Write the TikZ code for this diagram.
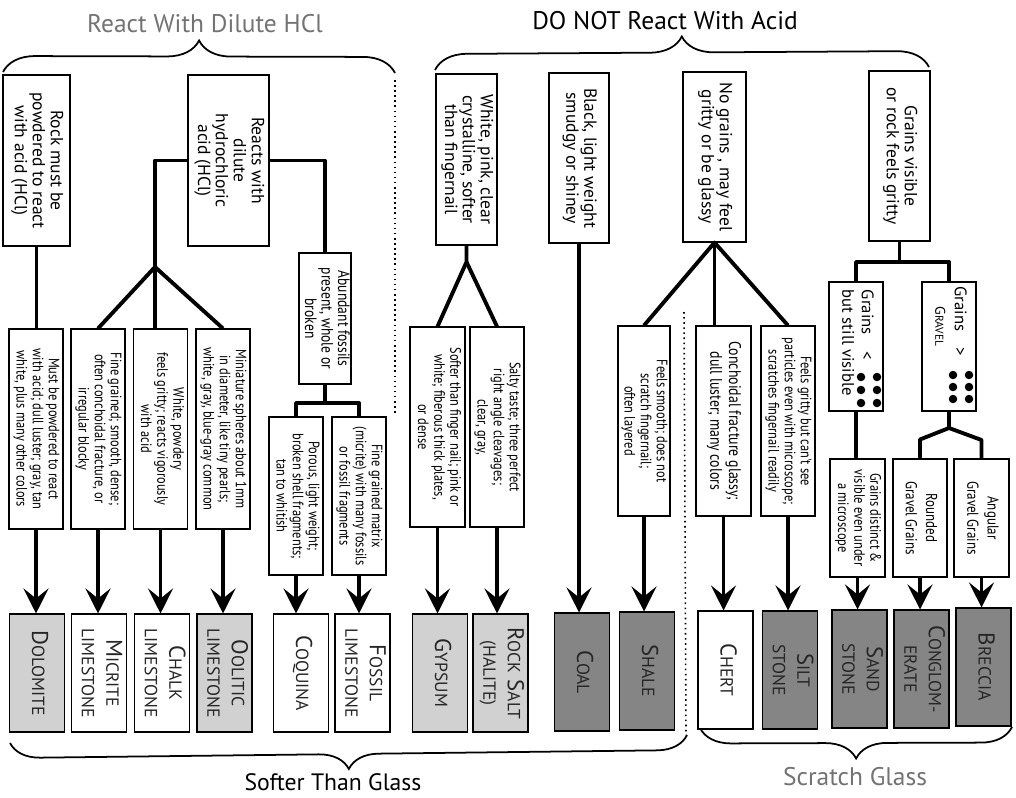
\documentclass[tikz,border=0pt]{standalone}
\usepackage{graphicx}
\usepackage{fontspec}
\setmainfont{PT Sans}
\newfontfamily\narrowfont[FakeStretch=0.82]{PT Sans}
\usetikzlibrary{arrows.meta,decorations.pathreplacing}

\newcommand{\vtext}[1]{\rotatebox{-90}{\begin{tabular}{@{}c@{}}#1\end{tabular}}}
\newcommand{\rock}[2]{{\fontsize{13}{14}\selectfont #1}{\fontsize{10}{14}\selectfont #2}}

\begin{document}
\begin{tikzpicture}[x=0.02cm,y=-0.02cm,
  textbox/.style={draw, line width=0.6pt, fill=white, inner sep=0pt, font=\fontsize{10}{10.2}\selectfont},
  note/.style={textbox, font=\narrowfont\fontsize{8.6}{9.2}\selectfont},
  rockbox/.style={textbox, minimum width=1.1cm, minimum height=2.36cm, font=\fontsize{13}{14}\selectfont, text=black!85},
  link/.style={line width=2.2pt, line join=round},
  arr/.style={line width=2.2pt, -{Stealth[length=0.5cm,width=0.5cm,inset=0.2cm]}},
  curly/.style={decorate, line width=1pt},
  toplabel/.style={font=\fontsize{14.5}{16}\selectfont}]
\definecolor{lightrock}{gray}{0.82}
\definecolor{darkrock}{gray}{0.52}
\useasboundingbox (0,0) rectangle (1016,797);

% group labels and braces
\node[toplabel, text=black!55] (acid) at (205,24) {React With Dilute HCl};
\node[toplabel] (noacid) at (665,21) {DO NOT React With Acid};
\node[toplabel, font=\fontsize{13.5}{15}\selectfont] (softer) at (333,782) {Softer Than Glass};
\node[toplabel, text=black!55] (scratch) at (855,777) {Scratch Glass};

\draw[curly, decoration={brace, amplitude=0.64cm}] (3,72) -- (395,73);
\draw[curly, decoration={brace, amplitude=0.64cm}] (435,70) -- (929,67);
\draw[curly, decoration={brace, amplitude=0.6cm}] (687,735) -- (10,743);
\draw[curly, decoration={brace, amplitude=0.62cm}] (1012,727) -- (700,728);

\draw[dotted, line width=0.9pt] (395,80) -- (395,415);
\draw[dotted, line width=0.9pt] (684,312) -- (686,735);

% first tests
\node[textbox, minimum width=1.34cm, minimum height=3.42cm] (powder) at (36.5,160.5) {\vtext{Rock must be\\powdered to react\\with acid (HCl)}};
\node[textbox, minimum width=1.62cm, minimum height=3.42cm] (react) at (228.5,160.5) {\vtext{Reacts with\\dilute\\hydrochloric\\acid (HCl)}};
\node[note, minimum width=1.04cm, minimum height=2.62cm, font=\narrowfont\fontsize{9.4}{9.4}\selectfont] (fossil) at (325,318.5) {\vtext{Abundant fossils\\present, whole or\\broken}};

\node[textbox, minimum width=1.22cm, minimum height=3.42cm] (soft) at (466.5,159.5) {\vtext{White, pink, clear\\crystalline, softer\\than fingernail}};
\node[textbox, minimum width=1.2cm, minimum height=3.4cm] (black) at (579,158) {\vtext{Black, light weight\\smudgy or shiney}};
\node[textbox, minimum width=1.26cm, minimum height=3.4cm] (nograin) at (714.5,157) {\vtext{No grains , may feel\\gritty or be glassy}};
\node[textbox, minimum width=1.22cm, minimum height=3.4cm] (grain) at (899.5,156) {\vtext{Grains visible\\or rock feels gritty}};

% descriptions
\node[note, minimum width=1.08cm, minimum height=4cm] (ddol) at (36,429) {\vtext{Must be powdered to react\\with acid; dull luster; gray, tan\\white, plus many other colors}};
\node[note, minimum width=1.08cm, minimum height=4cm] (dmic) at (98,429) {\vtext{Fine grained; smooth, dense;\\often conchoidal fracture, or\\irregular blocky}};
\node[note, minimum width=1.08cm, minimum height=4cm] (dcha) at (160.5,429) {\vtext{White, powdery\\feels gritty; reacts vigorously\\with acid}};
\node[note, minimum width=1.08cm, minimum height=4cm] (dool) at (223,429) {\vtext{Miniature spheres about 1mm\\in diameter, like tiny pearls;\\white, gray, blue-gray common}};
\node[note, minimum width=1.08cm, minimum height=3.16cm] (dcoq) at (296,496) {\vtext{Porous, light weight;\\broken shell fragments;\\tan to whitish}};
\node[note, minimum width=1.08cm, minimum height=3.16cm] (dfos) at (359,496) {\vtext{Fine grained matrix\\(micrite) with many fossils\\or fossil fragments}};

\node[note, minimum width=1.1cm, minimum height=4cm] (dgyp) at (437.5,427) {\vtext{Softer than finger nail; pink or\\white; fiberous thick plates,\\or dense}};
\node[note, minimum width=1.08cm, minimum height=4cm] (dsal) at (497,427) {\vtext{Salty taste; three perfect\\right angle cleavages;\\clear, gray,}};

\node[note, minimum width=1.04cm, minimum height=3.8cm] (dsha) at (644,421) {\vtext{Feels smooth; does not\\scratch fingernail;\\often layered}};
\node[note, minimum width=1.1cm, minimum height=3.8cm, font=\narrowfont\fontsize{9.6}{10.6}\selectfont] (dche) at (723.5,421) {\vtext{Conchoidal fracture glassy;\\dull luster; many colors}};
\node[note, minimum width=1.08cm, minimum height=3.8cm] (dsil) at (788,421) {\vtext{Feels gritty but can't see\\particles even with microscope;\\scratches fingernail readily}};

\node[textbox, minimum width=1.08cm, minimum height=2.58cm, font=\fontsize{9.5}{11}\selectfont] (fine) at (856,346.5) {\rotatebox{-90}{\begin{tabular}{@{}l@{}}Grains\quad<\hspace{2.6em}\mbox{}\\but still visible\end{tabular}}};
\node[textbox, minimum width=1.08cm, minimum height=2.58cm, font=\fontsize{9.5}{11}\selectfont] (coarse) at (949,346.5) {\rotatebox{-90}{\begin{tabular}{@{}l@{}}Grains\quad>\hspace{3em}\mbox{}\\\hspace{1.2em}{\fontsize{8}{9}\selectfont G}{\fontsize{6.5}{9}\selectfont RAVEL}\end{tabular}}};
\fill (861,377) circle (0.085cm) (877,377) circle (0.085cm)
      (861,390) circle (0.085cm) (877,390) circle (0.085cm)
      (861,403) circle (0.085cm) (877,403) circle (0.085cm);
\fill (953,375) circle (0.085cm) (969,375) circle (0.085cm)
      (953,387) circle (0.085cm) (969,387) circle (0.085cm)
      (953,399) circle (0.085cm) (969,399) circle (0.085cm);

\node[note, minimum width=1.1cm, minimum height=2.36cm] (dsan) at (857.5,518) {\vtext{Grains distinct \&\\visible even under\\a microscope}};
\node[note, minimum width=1.08cm, minimum height=2.36cm, font=\narrowfont\fontsize{9}{11.5}\selectfont] (dcon) at (920,518) {\vtext{Rounded\\Gravel Grains}};
\node[note, minimum width=1.1cm, minimum height=2.36cm, font=\narrowfont\fontsize{9}{11.5}\selectfont] (dbre) at (981.5,518) {\vtext{Angular\\Gravel Grains}};

% rock names
\node[rockbox, fill=lightrock] (dol) at (37,673) {\vtext{\rock{D}{OLOMITE}}};
\node[rockbox] (mic) at (99,673) {\vtext{\rock{M}{ICRITE}\\\rock{}{LIMESTONE}}};
\node[rockbox] (cha) at (162,673) {\vtext{\rock{C}{HALK}\\\rock{}{LIMESTONE}}};
\node[rockbox, fill=lightrock] (ool) at (224.5,673) {\vtext{\rock{O}{OLITIC}\\\rock{}{LIMESTONE}}};
\node[rockbox] (coq) at (301,673) {\vtext{\rock{C}{OQUINA}}};
\node[rockbox] (fos) at (362.5,673) {\vtext{\rock{F}{OSSIL}\\\rock{}{LIMESTONE}}};
\node[rockbox, fill=lightrock] (gyp) at (440,673) {\vtext{\rock{G}{YPSUM}}};
\node[rockbox, fill=lightrock] (sal) at (500.5,673) {\vtext{\rock{R}{OCK} \rock{S}{ALT}\\\rock{}{(HALITE)}}};
\node[rockbox, fill=darkrock] (coal) at (582,672) {\vtext{\rock{C}{OAL}}};
\node[rockbox, fill=darkrock] (sha) at (647,671) {\vtext{\rock{S}{HALE}}};
\node[rockbox] (che) at (725.5,670) {\vtext{\rock{C}{HERT}}};
\node[rockbox, fill=darkrock] (sil) at (790,670) {\vtext{\rock{S}{ILT}\\\rock{}{STONE}}};
\node[rockbox, fill=darkrock] (san) at (859.5,669) {\vtext{\rock{S}{AND}\\\rock{}{STONE}}};
\node[rockbox, fill=darkrock] (con) at (921.5,669) {\vtext{\rock{C}{ONGLOM-}\\\rock{}{ERATE}}};
\node[rockbox, fill=darkrock] (bre) at (983.5,667) {\vtext{\rock{B}{RECCIA}}};

% branches
\coordinate (hclfork) at (155,267);
\coordinate (fosfork) at (325,403);
\coordinate (softfork) at (466.5,262);
\coordinate (grainfork) at (899.5,262);
\coordinate (gravfork) at (949,428);

\draw[link] (powder.south) -- (powder.south |- ddol.north);
\draw[link] (react.west) -| (hclfork);
\draw[link] (react.east) -| (fossil.north);
\draw[link] (dmic.north) -- (hclfork) -- (dool.north);
\draw[link] (hclfork) -- (hclfork |- dcha.north);
\draw[link] (fossil.south) -- (fosfork);
\draw[link] (dcoq.north) |- (fosfork) -| (dfos.north);

\draw[link] (soft.south) -- (softfork) -- (dgyp.north);
\draw[link] (softfork) -- (dsal.north);
\draw[link] (dsha.north) -- (nograin.south) -- (dsil.north);
\draw[link] (nograin.south) -- (nograin.south |- dche.north);
\draw[link] (grain.south) -- (grainfork);
\draw[link] (fine.north) |- (grainfork) -| (coarse.north);
\draw[link] (fine.south) -- (fine.south |- dsan.north);
\draw[link] (coarse.south) -- (gravfork);
\draw[link] (dcon.north) -- ++(0,-19) -- (gravfork) -- ++(32.5,12) -- (dbre.north);

% arrows to the rocks
\draw[arr] (ddol.south) -- (ddol.south |- dol.north);
\draw[arr] (dmic.south) -- (dmic.south |- mic.north);
\draw[arr] (dcha.south) -- (dcha.south |- cha.north);
\draw[arr] (dool.south) -- (dool.south |- ool.north);
\draw[arr] (dcoq.south) -- (dcoq.south |- coq.north);
\draw[arr] (dfos.south) -- (dfos.south |- fos.north);
\draw[arr] (dgyp.south) -- (dgyp.south |- gyp.north);
\draw[arr] (dsal.south) -- (dsal.south |- sal.north);
\draw[arr] (black.south) -- (black.south |- coal.north);
\draw[arr] (dsha.south) -- (dsha.south |- sha.north);
\draw[arr] (dche.south) -- (dche.south |- che.north);
\draw[arr] (dsil.south) -- (dsil.south |- sil.north);
\draw[arr] (dsan.south) -- (dsan.south |- san.north);
\draw[arr] (dcon.south) -- (dcon.south |- con.north);
\draw[arr] (dbre.south) -- (dbre.south |- bre.north);
\end{tikzpicture}
\end{document}
